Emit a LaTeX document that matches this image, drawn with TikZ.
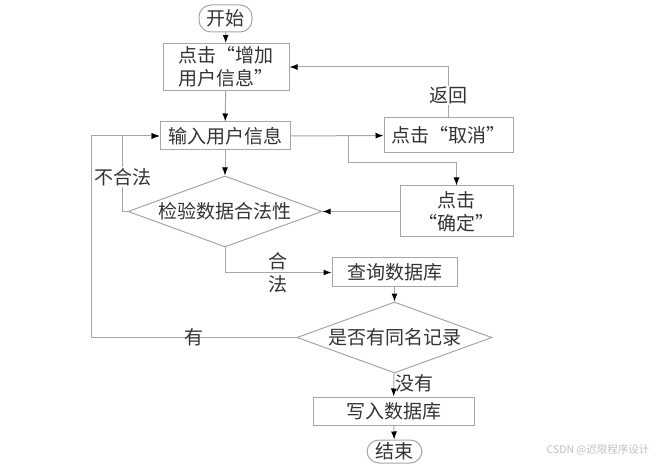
\documentclass[tikz,border=0pt]{standalone}
\usepackage{fontspec}
\setmainfont{Noto Sans CJK SC}
\usetikzlibrary{shapes.geometric,arrows.meta}

\begin{document}
\begin{tikzpicture}[x=1pt,y=-1pt,
    line width=1pt,
    font=\fontsize{19}{23}\selectfont,
    box/.style={draw=gray!70,text=black!80,inner sep=0pt,align=center},
    term/.style={box,rounded corners=12pt},
    cond/.style={box,shape=diamond,aspect=2.7},
    arr/.style={draw=gray!70,-{Latex[black,length=8pt,width=6pt]}},
    lbl/.style={text=black!80,inner sep=1pt}]
      \useasboundingbox (0,0) rectangle (667,465) ;
      % nodes
      \node[term,minimum width=53pt,minimum height=27pt] (start) at (225.5,18.5) {开始} ;
      \node[box,minimum width=126pt,minimum height=47pt] (add) at (226,67) {点击“增加\\用户信息”} ;
      \node[box,minimum width=130pt,minimum height=28pt] (input) at (225,136) {输入用户信息} ;
      \node[box,minimum width=129pt,minimum height=35pt] (cancel) at (448.5,135.5) {点击“取消”} ;
      \node[box,minimum width=113pt,minimum height=51pt] (confirm) at (456.5,211.5) {点击\\“确定”} ;
      \node[cond,minimum width=194pt,minimum height=71pt] (check) at (225,211.5) {检验数据合法性} ;
      \node[box,minimum width=125pt,minimum height=29pt] (query) at (394.5,272.5) {查询数据库} ;
      \node[cond,minimum width=195pt,minimum height=71pt] (same) at (394.5,337.5) {是否有同名记录} ;
      \node[box,minimum width=161pt,minimum height=28pt] (write) at (393.5,411) {写入数据库} ;
      \node[term,minimum width=55pt,minimum height=23pt] (stop) at (394.5,451.5) {结束} ;
      \coordinate (fork) at (348,136) ;
      % connectors
      \draw[arr] (start) -- (add) ;
      \draw[arr] (add) -- (input) ;
      \draw[arr] (input) -- (cancel) ;
      \draw[arr] (cancel.north) |- node[lbl,pos=0.22,fill=white]{返回} (add.east) ;
      \draw[arr] (fork) -- ++(0,27) -| (confirm.north) ;
      \draw[arr] (confirm) -- (check) ;
      \draw[arr] (input) -- (check) ;
      \draw[arr] (check.west) -- ++(-5,0) |- node[lbl,pos=0.23,fill=white]{不合法} (input.west) ;
      \draw[arr] (check.south) |- node[lbl,pos=0.75,align=center]{合\\法} (query.west) ;
      \draw[arr] (query) -- (same) ;
      \draw[arr] (same.west) -- node[lbl]{有} ++(-205,0) |- (input.west) ;
      \draw[arr] (same) -- node[lbl,right,pos=0.45]{没有} (write) ;
      \draw[arr] (write) -- (stop) ;
      % watermark
      \node[text=gray!50,font=\fontsize{10.5}{12}\selectfont] (mark) at (598,450) {CSDN @迟限程序设计} ;
\end{tikzpicture}
\end{document}
